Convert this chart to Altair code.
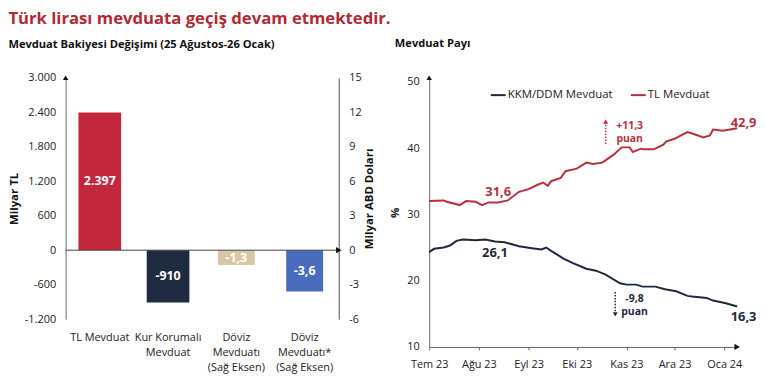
import altair as alt
import pandas as pd

FONT = "Open Sans"
RED = "#b8303e"
NAVY = "#1f2a40"

# ---------------- Left panel data ----------------
bar_cats = ["TL Mevduat", "Kur Korumalı|Mevduat", "Döviz|Mevduatı|(Sağ Eksen)", "Döviz|Mevduatı*|(Sağ Eksen)"]
tl_cats = bar_cats[:2]
tl_vals = [2397, -910]
tl_labels = ["2.397", "-910"]
tl_colors = ["#c3273b", "#1f2b41"]
usd_cats = bar_cats[2:]
usd_vals = [-1.3, -3.6]
usd_labels = ["-1,3", "-3,6"]
usd_colors = ["#d8c7a4", "#4a6cbd"]
left_ticks = [-1200, -600, 0, 600, 1200, 1800, 2400, 3000]
right_ticks = [-6, -3, 0, 3, 6, 9, 12, 15]

# ---------------- Right panel data ----------------
tl_dates = ["2023-07-01", "2023-07-10", "2023-07-12", "2023-07-20", "2023-07-24", "2023-07-30",
            "2023-08-03", "2023-08-07", "2023-08-13", "2023-08-19", "2023-08-26", "2023-09-01",
            "2023-09-07", "2023-09-10", "2023-09-13", "2023-09-15", "2023-09-21", "2023-09-24",
            "2023-10-01", "2023-10-07", "2023-10-11", "2023-10-17", "2023-10-24", "2023-10-29",
            "2023-11-03", "2023-11-05", "2023-11-10", "2023-11-12", "2023-11-18", "2023-11-24",
            "2023-11-26", "2023-12-01", "2023-12-05", "2023-12-09", "2023-12-12", "2023-12-19",
            "2023-12-23", "2023-12-25", "2023-12-31", "2024-01-09"]
tl_share = [32.0, 32.1, 31.9, 31.4, 32.0, 31.9,
            31.4, 31.8, 31.8, 32.1, 33.4, 33.8,
            34.5, 34.8, 34.3, 35.0, 35.5, 36.5,
            36.9, 37.8, 37.6, 37.8, 39.0, 40.1,
            40.1, 39.4, 39.9, 39.8, 39.8, 40.5,
            41.0, 41.4, 41.9, 42.4, 42.2, 41.6,
            41.9, 42.8, 42.6, 43.0]
kkm_dates = ["2023-07-01", "2023-07-04", "2023-07-10", "2023-07-14", "2023-07-18", "2023-07-22",
             "2023-07-30", "2023-08-05", "2023-08-11", "2023-08-17", "2023-08-26", "2023-09-03",
             "2023-09-09", "2023-09-12", "2023-09-15", "2023-09-23", "2023-09-29", "2023-10-07",
             "2023-10-13", "2023-10-19", "2023-10-28", "2023-11-01", "2023-11-07", "2023-11-11",
             "2023-11-19", "2023-11-25", "2023-12-02", "2023-12-09", "2023-12-12", "2023-12-21",
             "2023-12-25", "2024-01-02", "2024-01-09"]
kkm_share = [24.3, 24.8, 25.0, 25.3, 26.0, 26.2,
             26.1, 26.2, 25.9, 25.8, 25.2, 24.9,
             24.7, 25.0, 24.5, 23.3, 22.6, 21.8,
             21.5, 20.9, 19.6, 19.4, 19.4, 19.1,
             19.1, 18.7, 18.4, 17.7, 17.6, 17.4,
             17.0, 16.6, 16.1]
series_names = ["KKM/DDM Mevduat", "TL Mevduat"]
series_colors = [NAVY, RED]

big_texts = ["31,6", "26,1", "42,9", "16,3"]
big_dates = ["2023-08-13", "2023-08-11", "2024-01-13", "2024-01-13"]
big_vals = [33.4, 24.1, 43.7, 14.5]
big_colors = [RED, NAVY, RED, NAVY]

small_texts = ["+11,3", "puan", "-9,8", "puan"]
small_dates = ["2023-11-03", "2023-11-03", "2023-11-06", "2023-11-06"]
small_vals = [43.3, 41.3, 17.2, 15.2]
small_colors = [RED, RED, NAVY, NAVY]

arrow_dates = ["2023-10-19", "2023-10-25"]
arrow_from = [40.6, 18.3]
arrow_to = [43.7, 15.3]
arrow_head = [44.0, 14.9]
arrow_shapes = ["triangle-up", "triangle-down"]
arrow_colors = [RED, NAVY]

# ================= Left panel =================
WL, HL = 275, 243
x_enc = alt.X("cat:N", sort=bar_cats,
              scale=alt.Scale(domain=bar_cats, paddingInner=0, paddingOuter=0),
              axis=alt.Axis(title=None, labelAngle=0, labelExpr="split(datum.label, '|')",
                            domain=False, ticks=False, labelPadding=13, labelFontSize=11,
                            labelLineHeight=15, labelColor="#222", labelFont=FONT))

df_l = pd.DataFrame({"cat": tl_cats, "value": tl_vals, "label": tl_labels, "color": tl_colors})
df_l["mid"] = df_l["value"] / 2
df_r = pd.DataFrame({"cat": usd_cats, "value": usd_vals, "label": usd_labels, "color": usd_colors})
df_r["mid"] = df_r["value"] / 2

axis_l = alt.Axis(values=left_ticks, grid=False, ticks=False, domainColor="#666",
                  labelExpr="replace(replace(format(datum.value, ','), ',', '.'), '\u2212', '-')",
                  title="Milyar TL", titleFontWeight="bold", titleFontSize=11.5,
                  titleFont=FONT, labelFont=FONT, labelFontSize=11, labelColor="#222",
                  labelPadding=10, titlePadding=5, titleColor="#111")
scale_l = alt.Scale(domain=[-1200, 3000], nice=False, zero=False)
bars_l = alt.Chart(df_l).mark_bar(width=alt.RelativeBandSize(0.625)).encode(
    x=x_enc, y=alt.Y("value:Q", scale=scale_l, axis=axis_l), color=alt.Color("color:N", scale=None))
text_l = alt.Chart(df_l).mark_text(
    color="white", fontWeight="bold", fontSize=12.5, font=FONT).encode(
    x=alt.X("cat:N", sort=bar_cats), y=alt.Y("mid:Q", scale=scale_l, axis=axis_l), text="label:N")

axis_r = alt.Axis(orient="right", values=right_ticks, grid=False, ticks=False,
                  domainColor="#888", domainWidth=1.5,
                  labelExpr="replace(format(datum.value, 'd'), '\u2212', '-')",
                  title="Milyar ABD Doları", titleFontWeight="bold", titleFontSize=11.5,
                  titleAngle=270, titleFont=FONT, labelFont=FONT, labelFontSize=11,
                  labelColor="#222", labelPadding=10, titlePadding=13, titleColor="#111")
scale_r = alt.Scale(domain=[-6, 15], nice=False, zero=False)
bars_r = alt.Chart(df_r).mark_bar(width=alt.RelativeBandSize(0.54)).encode(
    x=x_enc, y=alt.Y("value:Q", scale=scale_r, axis=axis_r), color=alt.Color("color:N", scale=None))
text_r = alt.Chart(df_r).mark_text(
    color="white", fontWeight="bold", fontSize=12.5, font=FONT).encode(
    x=alt.X("cat:N", sort=bar_cats), y=alt.Y("mid:Q", scale=scale_r, axis=axis_r), text="label:N")
zero_df = pd.DataFrame({"value": [0]})
top_df = pd.DataFrame({"value": [15]})
zero_rule = alt.Chart(zero_df).mark_rule(color="#444", strokeWidth=1).encode(
    y=alt.Y("value:Q", scale=scale_r, axis=axis_r))
arrow_x = alt.Chart(zero_df).mark_point(shape="triangle-right", filled=True, color="#111", size=40, opacity=1).encode(
    x=alt.value(WL), y=alt.Y("value:Q", scale=scale_r, axis=axis_r))
arrow_y = alt.Chart(top_df).mark_point(shape="triangle-up", filled=True, color="#111", size=30, opacity=1).encode(
    x=alt.value(0), y=alt.Y("value:Q", scale=scale_r, axis=axis_r))

left_panel = alt.layer(
    alt.layer(bars_l, text_l),
    alt.layer(bars_r, text_r, zero_rule, arrow_x, arrow_y),
).resolve_scale(y="independent").properties(
    width=WL, height=HL,
    title=alt.Title("Mevduat Bakiyesi Değişimi (25 Ağustos-26 Ocak)", anchor="start", frame="bounds",
                    fontSize=11.2, fontWeight="bold", font=FONT, color="#111", offset=22))

# ================= Right panel =================
WR, HR = 310, 271
df_lines = pd.concat([
    pd.DataFrame({"date": kkm_dates, "value": kkm_share, "series": series_names[0]}),
    pd.DataFrame({"date": tl_dates, "value": tl_share, "series": series_names[1]}),
])
x_dom = [alt.DateTime(year=2023, month=7, date=1, utc=True), alt.DateTime(year=2024, month=1, date=9, utc=True)]
month_vals = [alt.DateTime(year=2023, month=m, date=1, utc=True) for m in range(7, 13)] + \
             [alt.DateTime(year=2024, month=1, date=1, utc=True)]
xt = alt.X("date:T", scale=alt.Scale(type="utc", domain=x_dom),
           axis=alt.Axis(values=month_vals, title=None, grid=False, tickSize=3, tickColor="#666",
                         domainColor="#666", labelOverlap=False, labelFlush=False,
                         labelExpr="['Oca','Şub','Mar','Nis','May','Haz','Tem','Ağu','Eyl','Eki','Kas','Ara'][utcmonth(datum.value)] + ' ' + utcFormat(datum.value, '%y')",
                         labelFont=FONT, labelFontSize=11, labelColor="#222", labelPadding=9))
yt = alt.Y("value:Q", scale=alt.Scale(domain=[10, 50.6], nice=False, zero=False),
           axis=alt.Axis(values=[10, 20, 30, 40, 50], grid=False, ticks=False, domainColor="#666",
                         title="%", titleFontWeight="bold", titleFont=FONT, titleFontSize=11.5,
                         labelFont=FONT, labelFontSize=11, labelColor="#222", labelPadding=10,
                         titlePadding=6, titleColor="#111"))
lines = alt.Chart(df_lines).mark_line(strokeWidth=2).encode(
    x=xt, y=yt,
    color=alt.Color("series:N", scale=alt.Scale(domain=series_names, range=series_colors),
                    legend=alt.Legend(orient="none", legendX=61, legendY=9, direction="horizontal",
                                      title=None, symbolType="stroke", symbolStrokeWidth=2,
                                      symbolSize=225, labelFont=FONT, labelFontSize=11.5,
                                      labelColor="#222", columnPadding=14, labelOffset=1)))
df_big = pd.DataFrame({"date": big_dates, "value": big_vals, "text": big_texts, "color": big_colors})
big = alt.Chart(df_big).mark_text(fontWeight="bold", fontSize=13, font=FONT).encode(
    x="date:T", y="value:Q", text="text:N", color=alt.Color("color:N", scale=None))
df_small = pd.DataFrame({"date": small_dates, "value": small_vals, "text": small_texts, "color": small_colors})
small = alt.Chart(df_small).mark_text(fontWeight="bold", fontSize=10.5, font=FONT).encode(
    x="date:T", y="value:Q", text="text:N", color=alt.Color("color:N", scale=None))
df_arr = pd.DataFrame({"date": arrow_dates, "y1": arrow_from, "y2": arrow_to, "head": arrow_head,
                       "shape": arrow_shapes, "color": arrow_colors})
arr_rule = alt.Chart(df_arr).mark_rule(strokeDash=[1.5, 1.5], strokeWidth=1.5).encode(
    x="date:T", y="y1:Q", y2="y2:Q", color=alt.Color("color:N", scale=None))
arr_head = alt.Chart(df_arr).mark_point(filled=True, size=25, opacity=1).encode(
    x="date:T", y="head:Q", shape=alt.Shape("shape:N", scale=None), color=alt.Color("color:N", scale=None))
one_r = pd.DataFrame({"v": [10]})
top_r = pd.DataFrame({"v": [50.6]})
rx_arrow = alt.Chart(one_r).mark_point(shape="triangle-right", filled=True, color="#111", size=40, opacity=1).encode(
    x=alt.value(WR), y="v:Q")
ry_arrow = alt.Chart(top_r).mark_point(shape="triangle-up", filled=True, color="#111", size=30, opacity=1).encode(
    x=alt.value(0), y="v:Q")

right_panel = alt.layer(lines, big, small, arr_rule, arr_head, rx_arrow, ry_arrow).properties(
    width=WR, height=HR,
    title=alt.Title("Mevduat Payı", anchor="start", frame="bounds", dx=5,
                    fontSize=11.2, fontWeight="bold", font=FONT, color="#111", offset=26))

chart = alt.hconcat(left_panel, right_panel, spacing=14).resolve_scale(
    color="independent").resolve_legend(color="independent").properties(
    title=alt.Title("Türk lirası mevduata geçiş devam etmektedir.", anchor="start", fontSize=16.8,
                    fontWeight="bold", font=FONT, color="#b22a33", offset=11),
    padding={"left": 0, "top": 1, "right": 0, "bottom": 0},
).configure_view(stroke=None)

chart.save("out.html", embed_options={"renderer": "svg", "actions": False})
